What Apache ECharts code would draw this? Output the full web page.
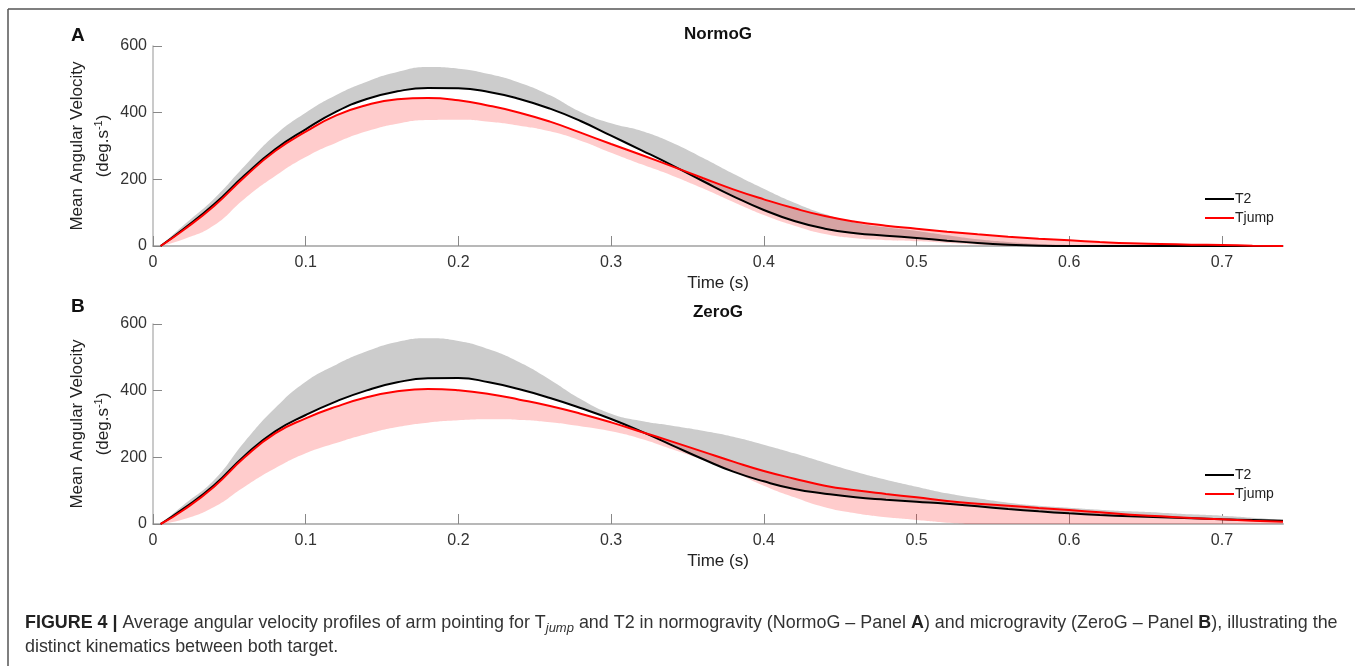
<!DOCTYPE html>
<html>
<head>
<meta charset="utf-8">
<script src="https://cdn.jsdelivr.net/npm/echarts@6/dist/echarts.min.js"></script>
<style>html,body{margin:0;padding:0;background:#fff}#c{width:1355px;height:666px}</style>
</head>
<body>
<div id="c"></div>
<script>
// ---- data ----
const time = [0.005,0.02,0.04,0.06,0.08,0.10,0.12,0.14,0.16,0.18,0.20,0.22,0.24,0.26,0.28,0.30,0.32,0.34,0.36,0.38,0.40,0.42,0.44,0.46,0.48,0.50,0.52,0.54,0.56,0.58,0.60,0.62,0.64,0.66,0.68,0.70,0.72,0.74];

const normoT2 =      [0,51,125,212,290,350,403,441,464,474,473,462,441,412,375,331,287,242,195,149,108,75,52,38,31,24,16,9,4,1,0,0,0,0,0,0,0,0];
const normoT2Upper = [0,62,142,240,333,400,453,493,522,537,532,516,490,452,402,368,345,310,265,217,172,130,96,70,56,45,32,20,12,6,3,1,0,0,0,0,0,0];
const normoTjump =   [0,48,120,207,285,343,392,423,440,444,437,421,400,373,340,306,273,239,204,170,140,113,90,73,61,52,43,35,28,22,17,12,8,6,4,3,1,0];
const normoTjumpLower=[0,20,62,142,210,267,310,344,367,378,379,373,361,344,316,280,245,211,173,132,93,61,36,23,17,14,9,4,1,0,0,0,0,0,0,0,0,0];

const zeroT2 =       [0,46,116,205,278,327,368,401,425,437,438,425,404,378,348,315,277,236,195,157,128,105,91,80,73,67,61,53,45,38,32,27,23,20,17,14,12,10];
const zeroT2Upper =  [0,57,132,247,348,427,478,518,546,557,549,524,485,433,375,331,309,295,280,262,238,212,184,157,133,112,92,77,64,55,49,43,38,34,29,25,19,12];
const zeroTjump =    [0,42,112,200,272,317,352,380,398,405,401,390,373,354,331,305,276,247,217,187,159,136,115,101,90,80,69,61,55,48,42,35,28,23,18,14,10,7];
const zeroTjumpLower=[0,14,51,112,167,212,243,270,291,304,311,314,312,305,293,278,255,224,192,157,115,80,50,32,20,12,4,0,0,0,0,0,0,0,0,0,0,0];

const xTicks = [0,0.1,0.2,0.3,0.4,0.5,0.6,0.7];
const yTicks = [0,200,400,600];
const panelTitles = ['NormoG','ZeroG'];
const panelLetters = ['A','B'];
const seriesNames = ['T2','Tjump'];

// ---- chart ----
const FONT = '"Liberation Sans", Arial, Helvetica, sans-serif';
const zip = (xs, ys) => xs.map((x, i) => [x, ys[i]]);
// value-first pairs so that stacking acts on the y dimension
const zipVY = (xs, ys) => xs.map((x, i) => [ys[i], x]);
const diff = (a, b) => a.map((v, i) => Math.max(0, v - b[i]));
const SMOOTH = 0.5;

const panels = [
  {t2: normoT2, t2u: normoT2Upper, tj: normoTjump, tjl: normoTjumpLower, top: 46},
  {t2: zeroT2, t2u: zeroT2Upper, tj: zeroTjump, tjl: zeroTjumpLower, top: 324}
];

const grids = [], xAxes = [], yAxes = [], series = [], legends = [], titles = [];
panels.forEach((p, i) => {
  grids.push({left: 153, right: 72, top: p.top, height: 200, containLabel: false});
  xAxes.push({
    gridIndex: i, type: 'value', min: 0, max: 0.74,
    axisLine: {show: true, onZero: false, lineStyle: {color: '#b8b8b8', width: 2}},
    axisTick: {show: true, inside: true, length: 10, customValues: xTicks, lineStyle: {color: '#888', width: 1}},
    axisLabel: {customValues: xTicks, margin: 9, fontSize: 16, color: '#333', fontFamily: FONT,
      formatter: v => String(+(+v).toFixed(2))},
    splitLine: {show: false},
    name: 'Time (s)', nameLocation: 'middle', nameGap: 29,
    nameTextStyle: {fontSize: 17, color: '#222', fontFamily: FONT}
  });
  yAxes.push({
    gridIndex: i, type: 'value', min: 0, max: 600, interval: 200,
    axisLine: {show: true, lineStyle: {color: '#b8b8b8', width: 1.5}},
    axisTick: {show: true, inside: true, length: 9, lineStyle: {color: '#888', width: 1}},
    axisLabel: {margin: 6, fontSize: 16, color: '#333', fontFamily: FONT,
      formatter: v => String(yTicks[yTicks.indexOf(v)] ?? v)},
    splitLine: {show: false}
  });
  const common = {type: 'line', xAxisIndex: i, yAxisIndex: i, symbol: 'none', smooth: SMOOTH, silent: true};
  const bandCommon = Object.assign({}, common, {encode: {x: 1, y: 0}, dimensions: [{name: 'v', type: 'float'}, {name: 't', type: 'float'}]});
  // grey band: T2 mean to T2 upper
  series.push(Object.assign({}, bandCommon, {name: 'g' + i + 'base', stack: 'g' + i, data: zipVY(time, p.t2), lineStyle: {opacity: 0}, z: 1}));
  series.push(Object.assign({}, bandCommon, {name: 'g' + i + 'band', stack: 'g' + i, data: zipVY(time, diff(p.t2u, p.t2)), lineStyle: {opacity: 0}, areaStyle: {color: '#cccccc', opacity: 1}, z: 1}));
  // pink band: Tjump lower to Tjump mean
  series.push(Object.assign({}, bandCommon, {name: 'p' + i + 'base', stack: 'p' + i, data: zipVY(time, p.tjl), lineStyle: {opacity: 0}, z: 2}));
  series.push(Object.assign({}, bandCommon, {name: 'p' + i + 'band', stack: 'p' + i, data: zipVY(time, diff(p.tj, p.tjl)), lineStyle: {opacity: 0}, areaStyle: {color: 'rgba(255,0,0,0.2)', opacity: 1}, z: 2}));
  // mean lines
  series.push(Object.assign({}, common, {name: seriesNames[0], data: zip(time, p.t2), lineStyle: {color: '#000', width: 2}, itemStyle: {color: '#000'}, z: 3}));
  series.push(Object.assign({}, common, {name: seriesNames[1], data: zip(time, p.tj), lineStyle: {color: '#ff0000', width: 2}, itemStyle: {color: '#ff0000'}, z: 4}));

  legends.push({
    data: seriesNames, orient: 'vertical', left: 1200, top: [186, 462][i],
    icon: 'rect', itemWidth: 29, itemHeight: 2, itemGap: 3,
    textStyle: {fontSize: 14, color: '#222', fontFamily: FONT, lineHeight: 16, padding: [0, 0, 0, -4]},
    selectedMode: false
  });
  titles.push({text: panelTitles[i], left: 718, top: [26, 304][i], textAlign: 'center',
    textStyle: {fontSize: 17, fontWeight: 'bold', color: '#111', fontFamily: FONT}, padding: 0});
  titles.push({text: panelLetters[i], left: 71, top: [26, 297][i],
    textStyle: {fontSize: 19, fontWeight: 'bold', color: '#111', fontFamily: FONT}, padding: 0});
});

const graphics = [
  {type: 'line', shape: {x1: 8, y1: 9, x2: 1355, y2: 9}, style: {stroke: '#555', lineWidth: 1.5}, silent: true},
  {type: 'line', shape: {x1: 8, y1: 9, x2: 8, y2: 666}, style: {stroke: '#555', lineWidth: 1.5}, silent: true}
];
[146, 424].forEach(cy => {
  graphics.push({type: 'text', x: 77, y: cy, rotation: Math.PI / 2, silent: true,
    style: {text: 'Mean Angular Velocity', fontSize: 17, fontFamily: FONT, fill: '#222', align: 'center', verticalAlign: 'middle'}});
  graphics.push({type: 'text', x: 103, y: cy, rotation: Math.PI / 2, silent: true,
    style: {text: '(deg.s{sup|-1})', fontSize: 17, fontFamily: FONT, fill: '#222', align: 'center', verticalAlign: 'middle', lineHeight: 20,
      rich: {sup: {fontSize: 11, fontFamily: FONT, fill: '#222', lineHeight: 10, verticalAlign: 'top'}}}});
});
graphics.push({type: 'text', x: 25, y: 611, silent: true,
  style: {
    text: '{b|FIGURE 4 |} Average angular velocity profiles of arm pointing for T{i|jump} and T2 in normogravity (NormoG – Panel {b|A}) and microgravity (ZeroG – Panel {b|B}), illustrating the\ndistinct kinematics between both target.',
    fontSize: 17.9, fontFamily: FONT, fill: '#333', lineHeight: 24, align: 'left', verticalAlign: 'top',
    rich: {
      b: {fontWeight: 'bold', fontSize: 17.9, fontFamily: FONT, fill: '#222', lineHeight: 24},
      i: {fontStyle: 'italic', fontSize: 13, fontFamily: FONT, fill: '#333', lineHeight: 14, verticalAlign: 'bottom'}
    }
  }});

const chart = echarts.init(document.getElementById('c'), null, {renderer: 'canvas'});
chart.setOption({
  animation: false,
  backgroundColor: '#fff',
  title: titles,
  grid: grids,
  xAxis: xAxes,
  yAxis: yAxes,
  legend: legends,
  series: series,
  graphic: graphics
});
</script>
</body>
</html>
